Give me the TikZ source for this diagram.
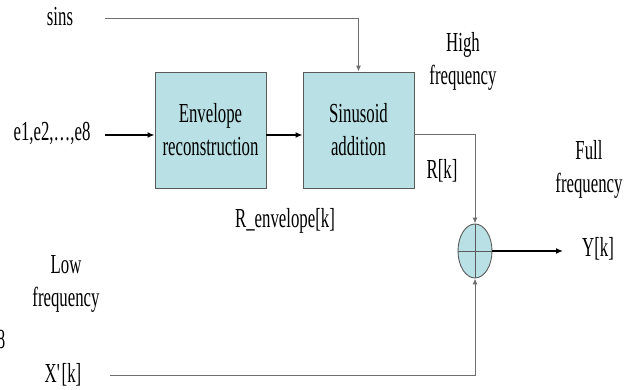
\documentclass[tikz,border=0pt]{standalone}
\usepackage{fontspec}
\setmainfont{Liberation Serif}[FakeStretch=0.61]
\usetikzlibrary{arrows.meta,shapes.geometric}
\definecolor{boxfill}{RGB}{185,224,228}
\definecolor{edgegray}{RGB}{90,90,90}
\definecolor{linegray}{RGB}{110,110,110}
\tikzset{
  lbl/.style={inner sep=0pt, align=center, font=\fontsize{27.5}{33}\selectfont},
  blockbox/.style={draw=edgegray, line width=0.9pt, fill=boxfill, rectangle,
    minimum width=111pt, minimum height=116pt, inner sep=0pt, align=center,
    font=\fontsize{27.5}{33}\selectfont},
  sumnode/.style={draw=edgegray, line width=0.9pt, fill=boxfill, ellipse,
    minimum width=34pt, minimum height=54pt, inner sep=0pt},
  thinline/.style={draw=linegray, line width=1pt},
  thinarrow/.style={thinline, -{Latex[length=6pt,width=5pt]}},
  thickarrow/.style={draw=black, line width=1.8pt, -{Latex[length=7pt,width=6pt]}}
}
\begin{document}
\begin{tikzpicture}[x=1pt,y=-1pt]
\useasboundingbox (0,0) rectangle (642,390);
% blocks
\node[blockbox] (env) at (210.5,130) {Envelope\\reconstruction};
\node[blockbox] (sin) at (358.5,130) {Sinusoid\\addition};
\node[sumnode] (sum) at (475,251) {};
\draw[draw=edgegray, line width=0.9pt] (sum.north) -- (sum.south) (sum.west) -- (sum.east);
% labels
\node[lbl] (sins) at (60,17) {sins};
\node[lbl] (elabel) at (52,133) {e1,e2,\ldots,e8};
\node[lbl] (high) at (463,61) {High\\frequency};
\node[lbl] (rk) at (442,171) {R[k]};
\node[lbl] (full) at (589,169) {Full\\frequency};
\node[lbl] (renv) at (285,221) {R\_envelope[k]};
\node[lbl] (yk) at (598,249) {Y[k]};
\node[lbl] (low) at (66,284) {Low\\frequency};
\node[lbl, anchor=east] (eight) at (5.5,339) {8};
\node[lbl] (xk) at (63,375) {X\textquotesingle[k]};
% coordinates
\coordinate (sinsstart) at (105,19);
\coordinate (ein) at (105,135);
\coordinate (xstart) at (110,375);
\coordinate (yend) at (563,251);
% connectors
\draw[thinarrow] (sinsstart) -| (sin.north);
\draw[thickarrow] (ein) -- (ein -| env.west);
\draw[thickarrow] (ein -| env.east) -- (ein -| sin.west);
\draw[thinarrow] (ein -| sin.east) -| (sum.north);
\draw[thinarrow] (xstart) -| (sum.south);
\draw[thickarrow] (sum.east) -- (yend);
\end{tikzpicture}
\end{document}
